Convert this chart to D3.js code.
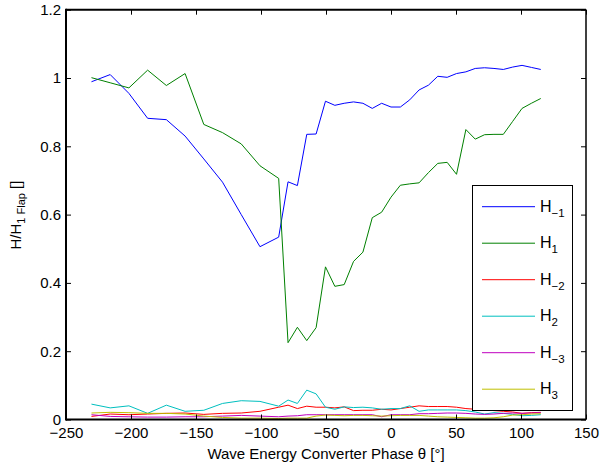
<!DOCTYPE html>
<html lang="en">
<head>
<meta charset="UTF-8">
<title>Harmonics vs phase</title>
<style>
  body { margin: 0; background: #fff; }
  svg { display: block; font-family: "Liberation Sans", Arial, sans-serif; }
</style>
</head>
<body>
<script src="https://cdn.jsdelivr.net/npm/d3@7"></script>
<script>
// phase of the wave energy converter (deg)
var theta = [-230.4, -216, -201.6, -187.2, -172.8, -158.4, -144, -129.6, -115.2, -100.8, -86.4,
  -79.2, -72, -64.8, -57.6, -50.4, -43.2, -36, -28.8, -21.6, -14.4, -7.2, 0, 7.2, 14.4, 21.6,
  28.8, 36, 43.2, 50.4, 57.6, 64.8, 72, 79.2, 86.4, 93.6, 100.8, 108, 115.2];

// H / H1 flap per harmonic
var hm1 = [0.989, 1.010, 0.955, 0.882, 0.878, 0.830, 0.763, 0.695, 0.600, 0.506, 0.534,
  0.696, 0.685, 0.835, 0.836, 0.932, 0.920, 0.926, 0.930, 0.926, 0.911, 0.926, 0.915, 0.915, 0.936, 0.965,
  0.979, 1.005, 1.002, 1.013, 1.018, 1.028, 1.030, 1.028, 1.025, 1.032, 1.037, 1.031, 1.025];
var h1 = [1.001, 0.986, 0.971, 1.023, 0.978, 1.013, 0.864, 0.840, 0.807, 0.743, 0.706,
  0.225, 0.270, 0.231, 0.269, 0.447, 0.390, 0.395, 0.463, 0.490, 0.591, 0.607, 0.651, 0.686, 0.690, 0.693,
  0.723, 0.750, 0.753, 0.718, 0.849, 0.821, 0.834, 0.835, 0.835, 0.873, 0.911, 0.926, 0.940];
var hm2 = [0.009, 0.016, 0.014, 0.016, 0.018, 0.019, 0.015, 0.018, 0.019, 0.024, 0.036,
  0.042, 0.032, 0.039, 0.036, 0.036, 0.034, 0.037, 0.026, 0.027, 0.027, 0.030, 0.028, 0.032, 0.036, 0.040,
  0.038, 0.038, 0.038, 0.036, 0.032, 0.030, 0.028, 0.026, 0.024, 0.022, 0.018, 0.020, 0.021];
var h2 = [0.045, 0.034, 0.040, 0.018, 0.042, 0.024, 0.027, 0.047, 0.055, 0.053, 0.039,
  0.057, 0.047, 0.086, 0.075, 0.036, 0.030, 0.037, 0.035, 0.036, 0.034, 0.030, 0.032, 0.032, 0.040, 0.024,
  0.028, 0.028, 0.028, 0.028, 0.026, 0.022, 0.016, 0.020, 0.018, 0.015, 0.011, 0.012, 0.014];
var hm3 = [0.014, 0.009, 0.008, 0.007, 0.007, 0.008, 0.008, 0.010, 0.012, 0.010, 0.008,
  0.010, 0.011, 0.014, 0.014, 0.014, 0.014, 0.014, 0.014, 0.014, 0.014, 0.008, 0.014, 0.014, 0.014, 0.017,
  0.017, 0.018, 0.019, 0.019, 0.018, 0.016, 0.015, 0.016, 0.018, 0.019, 0.018, 0.019, 0.020];
var h3 = [0.019, 0.021, 0.020, 0.018, 0.018, 0.016, 0.010, 0.006, 0.004, 0.004, 0.003,
  0.004, 0.004, 0.004, 0.010, 0.013, 0.012, 0.011, 0.012, 0.012, 0.011, 0.010, 0.011, 0.012, 0.012, 0.012,
  0.010, 0.008, 0.007, 0.006, 0.005, 0.004, 0.004, 0.005, 0.008, 0.013, 0.014, 0.016, 0.017];

var series = [
  { name: 'H', sub: '\u22121', color: '#0000ff', values: hm1 },
  { name: 'H', sub: '1', color: '#008000', values: h1 },
  { name: 'H', sub: '\u22122', color: '#ff0000', values: hm2 },
  { name: 'H', sub: '2', color: '#00bfbf', values: h2 },
  { name: 'H', sub: '\u22123', color: '#bf00bf', values: hm3 },
  { name: 'H', sub: '3', color: '#bfbf00', values: h3 }
];

var xTicks = [-250, -200, -150, -100, -50, 0, 50, 100, 150];
var yTicks = [0, 0.2, 0.4, 0.6, 0.8, 1, 1.2];

var W = 600, H = 468;
// plot box (window.top is read-only, so no "top" here)
var pL = 66, pR = 586, pT = 9.7, pB = 419.5;

var svg = d3.select('body').append('svg').attr('width', W).attr('height', H);

var x = d3.scaleLinear().domain([-250, 150]).range([pL, pR]);
var y = d3.scaleLinear().domain([0, 1.2]).range([pB, pT]);

// lines
var line = d3.line().x(function (d) { return x(d[0]); }).y(function (d) { return y(d[1]); });
svg.append('g').selectAll('path').data(series).enter().append('path')
  .attr('d', function (s) { return line(theta.map(function (t, i) { return [t, s.values[i]]; })); })
  .attr('fill', 'none')
  .attr('stroke', function (s) { return s.color; })
  .attr('stroke-width', 1);

// axes, ticks pointing inward
var fmtY = function (d) { return String(+d.toFixed(1)); };
var gx = svg.append('g').attr('transform', 'translate(0,' + pB + ')')
  .call(d3.axisBottom(x).tickValues(xTicks).tickSize(-5).tickPadding(8));
var gy = svg.append('g').attr('transform', 'translate(' + pL + ',0)')
  .call(d3.axisLeft(y).tickValues(yTicks).tickFormat(fmtY).tickSize(-5).tickPadding(5));
var gt = svg.append('g').attr('transform', 'translate(0,' + pT + ')')
  .call(d3.axisTop(x).tickValues(xTicks).tickSize(-5).tickFormat(''));
var gr = svg.append('g').attr('transform', 'translate(' + pR + ',0)')
  .call(d3.axisRight(y).tickValues(yTicks).tickSize(-5).tickFormat(''));

[gx, gy, gt, gr].forEach(function (g) {
  g.select('.domain').remove();
  g.selectAll('line').attr('stroke', '#000').attr('stroke-width', 1);
  g.selectAll('text').attr('fill', '#000').style('font-size', '15px')
    .style('font-family', '"Liberation Sans", Arial, sans-serif');
});

// box
svg.append('line').attr('x1', pL).attr('x2', pL).attr('y1', pT - 1).attr('y2', pB + 1)
  .attr('stroke', '#000').attr('stroke-width', 2);
svg.append('line').attr('x1', pL).attr('x2', pR).attr('y1', pB).attr('y2', pB)
  .attr('stroke', '#000').attr('stroke-width', 2);
svg.append('line').attr('x1', pL).attr('x2', pR).attr('y1', pT).attr('y2', pT)
  .attr('stroke', '#000').attr('stroke-width', 2);
svg.append('line').attr('x1', pR).attr('x2', pR).attr('y1', pT).attr('y2', pB)
  .attr('stroke', '#000').attr('stroke-width', 1.5);

// axis labels
svg.append('text').attr('x', 326).attr('y', 458.5).attr('text-anchor', 'middle')
  .style('font-size', '15px').text('Wave Energy Converter Phase \u03b8 [\u00b0]');

var yl = svg.append('text').attr('transform', 'translate(21,215) rotate(-90)')
  .attr('text-anchor', 'middle').style('font-size', '15px');
yl.append('tspan').text('H/H');
yl.append('tspan').attr('dy', 4).style('font-size', '11px').text('1 Flap');
yl.append('tspan').attr('dy', -4).text(' []');

// legend
var lg = svg.append('g');
lg.append('rect').attr('x', 472.5).attr('y', 185.5).attr('width', 100).attr('height', 225)
  .attr('fill', '#fff').attr('stroke', '#000').attr('stroke-width', 1);
var row = lg.selectAll('g.row').data(series).enter().append('g')
  .attr('transform', function (d, i) { return 'translate(0,' + (206.7 + i * 36.5) + ')'; });
row.append('line').attr('x1', 482).attr('x2', 535).attr('y1', 0).attr('y2', 0)
  .attr('stroke', function (d) { return d.color; }).attr('stroke-width', 1);
var lt = row.append('text').attr('x', 540).attr('y', 5).style('font-size', '16px');
lt.append('tspan').text(function (d) { return d.name; });
lt.append('tspan').attr('dy', 5).style('font-size', '11.5px').text(function (d) { return d.sub; });
</script>
</body>
</html>
